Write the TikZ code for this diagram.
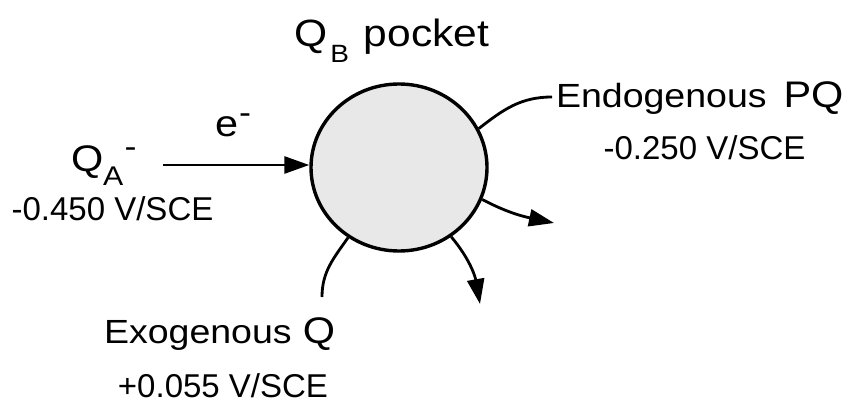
\documentclass[tikz,border=0pt]{standalone}
\usepackage{fontspec}
\usepackage{graphicx}
\setmainfont{Liberation Sans}
\usetikzlibrary{arrows.meta,shapes.geometric}
\definecolor{pocketgray}{HTML}{E8E8E8}
\newcommand{\fs}[1]{\fontsize{#1}{#1}\selectfont}
\newcommand{\wide}[1]{\scalebox{1.12}[1]{#1}}
\begin{document}
\begin{tikzpicture}[x=1pt,y=-1pt,
  lbl/.style={inner sep=0pt,outer sep=0pt},
  conn/.style={line width=2.8pt},
  arr/.style={line width=2.8pt,-{Triangle[length=25pt,width=17pt]}},
  pocket/.style={draw,ellipse,line width=3.4pt,fill=pocketgray,minimum width=176pt,minimum height=167pt,inner sep=0pt}]
\useasboundingbox (0,0) rectangle (850,403);
% pocket
\node[pocket] (circ) at (399,167.5) {};
% labels
\node[lbl,anchor=base west] (qb) at (294,47) {\wide{\fs{38}Q\hspace{3pt}\raisebox{-16pt}{\fs{25}B}\hspace{13pt}pocket}};
\node[lbl,anchor=base west] (qa) at (71,172) {\wide{\fs{37}Q\raisebox{-14pt}{\fs{27}A}\hspace{1pt}\raisebox{14pt}{\fs{32}-}}};
\node[lbl,anchor=base] (qaval) at (112.5,220) {\fs{33}-0.450 V/SCE};
\node[lbl,anchor=base west] (el) at (215,137) {\wide{\fs{37}e\hspace{1pt}\raisebox{13pt}{\fs{32}-}}};
\node[lbl,anchor=base west] (endo) at (556,108) {\wide{\fs{33.5}Endogenous\hspace{15pt}\fs{37}PQ}};
\node[lbl,anchor=base] (endoval) at (704.5,160) {\fs{33}-0.250 V/SCE};
\node[lbl,anchor=base west] (exo) at (104,343) {\wide{\fs{33.5}Exogenous\hspace{10pt}\fs{37}Q}};
\node[lbl,anchor=base] (exoval) at (223,397) {\fs{33}+0.055 V/SCE};
% connector ends
\coordinate (eStart) at (163,165);
\coordinate (endoEnd) at (552,97);
\coordinate (rightTip) at (554,223);
\coordinate (downTip) at (480,304);
\coordinate (exoEnd) at (322,297);
% connectors
\draw[arr] (eStart) -- (eStart -| circ.west);
\draw[conn] (circ.26) to[out=38,in=180] (endoEnd);
\draw[arr] (circ.-21) to[out=-28,in=168] (rightTip);
\draw[arr] (circ.-53) to[out=-50,in=100] (downTip);
\draw[conn] (circ.-126) to[out=-125,in=90] (exoEnd);
\end{tikzpicture}
\end{document}
